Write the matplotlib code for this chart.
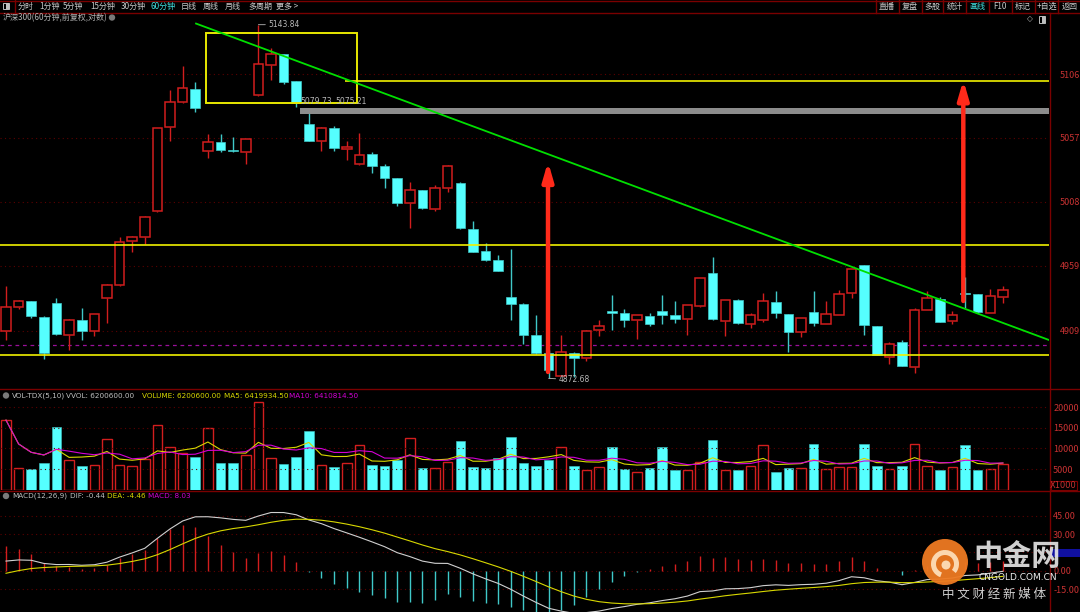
import numpy as np
import pandas as pd
import matplotlib
matplotlib.use('Agg')
import matplotlib.pyplot as plt
from matplotlib.patches import Rectangle, Circle, Wedge

plt.rcParams['font.family'] = ['Noto Sans CJK SC', 'DejaVu Sans']

# 沪深300 60分钟 K线
opens = [4908.8, 4927.4, 4931.8, 4920.0, 4930.7, 4905.7, 4917.7, 4908.8, 4934.1, 4944.0,
         4977.8, 4980.8, 5000.8, 5065.1, 5084.5, 5094.5, 5047.0, 5054.1, 5047.6, 5046.4,
         5089.9, 5112.7, 5121.3, 5100.4, 5067.4, 5054.4, 5064.6, 5048.5, 5037.0, 5044.5,
         5035.7, 5026.1, 5006.9, 5016.8, 5002.7, 5018.4, 5022.2, 4987.2, 4970.1, 4963.2,
         4935.1, 4929.7, 4905.7, 4892.4, 4874.7, 4891.9, 4888.1, 4909.6, 4924.3, 4922.6,
         4917.4, 4920.7, 4924.1, 4921.0, 4918.0, 4927.9, 4953.2, 4916.9, 4932.5, 4914.4,
         4917.4, 4931.5, 4922.0, 4908.5, 4923.6, 4914.6, 4921.5, 4937.9, 4959.4, 4912.6,
         4889.3, 4900.4, 4881.2, 4925.3, 4933.3, 4916.4, 4938.1, 4937.1, 4923.0, 4934.8]
highs = [4943.7, 4932.8, 4932.0, 4920.5, 4934.1, 4918.0, 4926.4, 4922.2, 4945.0, 4981.1,
         4982.1, 4997.0, 5065.0, 5093.7, 5112.1, 5099.9, 5060.2, 5060.2, 5057.7, 5056.3,
         5143.84, 5126.2, 5121.5, 5100.6, 5076.3, 5065.6, 5066.1, 5054.6, 5060.5, 5046.0,
         5036.8, 5026.5, 5023.0, 5017.0, 5020.7, 5036.0, 5023.2, 4993.3, 4976.7, 4967.2,
         4972.1, 4930.7, 4921.3, 4894.4, 4905.9, 4893.1, 4909.8, 4917.4, 4936.6, 4925.9,
         4921.3, 4922.6, 4936.6, 4931.8, 4929.0, 4949.8, 4965.5, 4932.8, 4933.5, 4923.0,
         4937.9, 4939.7, 4922.3, 4919.3, 4939.7, 4932.0, 4940.4, 4956.6, 4959.6, 4912.8,
         4900.4, 4902.1, 4926.4, 4939.7, 4935.3, 4924.6, 4950.6, 4937.4, 4941.2, 4943.7]
lows = [4902.1, 4925.6, 4919.0, 4887.8, 4906.0, 4894.4, 4902.1, 4905.2, 4915.4, 4943.6,
        4969.6, 4975.9, 5000.3, 5054.4, 5083.8, 5076.9, 5041.8, 5046.4, 5046.4, 5037.0,
        5089.5, 5101.4, 5098.1, 5080.5, 5054.5, 5047.2, 5047.2, 5040.1, 5036.2, 5029.9,
        5018.6, 5005.0, 4987.7, 5002.7, 5001.2, 5015.8, 4987.5, 4969.5, 4963.0, 4955.0,
        4917.7, 4899.3, 4891.1, 4872.68, 4874.5, 4873.5, 4886.0, 4905.4, 4909.8, 4911.8,
        4902.6, 4913.1, 4914.6, 4915.4, 4905.9, 4927.5, 4917.7, 4905.2, 4914.6, 4911.3,
        4915.9, 4919.2, 4893.1, 4904.4, 4913.1, 4914.3, 4921.2, 4934.5, 4905.7, 4890.3,
        4883.7, 4882.2, 4877.0, 4925.0, 4915.6, 4914.4, 4926.6, 4923.0, 4922.7, 4930.7]
closes = [4927.6, 4931.8, 4920.3, 4891.9, 4906.5, 4917.2, 4909.0, 4921.8, 4944.0, 4977.0,
          4980.8, 4996.6, 5064.4, 5084.3, 5095.3, 5079.9, 5053.6, 5047.7, 5047.3, 5055.9,
          5113.7, 5121.3, 5099.6, 5084.0, 5054.9, 5064.4, 5049.5, 5050.0, 5043.9, 5035.7,
          5026.5, 5006.9, 5016.8, 5003.3, 5018.6, 5035.7, 4987.7, 4969.8, 4963.2, 4955.2,
          4929.9, 4905.9, 4892.1, 4879.3, 4892.7, 4888.1, 4909.2, 4913.1, 4922.6, 4917.4,
          4921.0, 4914.6, 4921.5, 4918.4, 4928.7, 4949.4, 4918.0, 4932.5, 4914.9, 4921.0,
          4932.0, 4922.6, 4908.5, 4919.0, 4915.4, 4921.8, 4937.4, 4956.3, 4913.4, 4890.6,
          4898.8, 4882.4, 4924.9, 4934.3, 4915.9, 4921.0, 4937.7, 4923.3, 4935.6, 4940.7]
# 成交量 (X1000, 单位千)
volumes = [16.9, 5.3, 5.0, 6.5, 15.3, 7.1, 5.7, 6.1, 12.2, 6.0,
           5.7, 7.4, 15.8, 10.3, 8.9, 8.0, 14.9, 6.5, 6.5, 8.4,
           21.2, 7.6, 6.3, 8.0, 14.3, 6.1, 5.5, 6.4, 10.9, 5.9,
           5.7, 7.3, 12.5, 5.3, 5.3, 6.6, 11.8, 5.5, 5.3, 7.6,
           12.8, 6.5, 5.7, 7.3, 10.3, 5.7, 4.7, 5.4, 10.3, 5.0,
           4.4, 5.3, 10.4, 4.7, 4.8, 6.8, 12.0, 4.7, 4.7, 5.8,
           10.8, 4.4, 5.3, 5.3, 11.0, 4.9, 5.4, 5.5, 11.2, 5.8,
           4.9, 5.8, 11.2, 5.7, 4.8, 5.5, 10.9, 4.8, 4.9, 6.2]

price_ticks = [5106, 5057, 5008, 4959, 4909]
vol_ticks = [5, 10, 15, 20]
vol_labels = ['5000', '10000', '15000', '20000']
macd_ticks = [45, 30, 15, 0, -15]
macd_labels = ['45.00', '30.00', '15.00', '0.00', '-15.00']

# MACD 初始状态
ema12_seed, ema26_seed, dea_seed = 4910.0, 4903.0, -4.6

# 画线
trend_x, trend_p = [15.06, 82.65], [5144.7, 4902.1]
box_x, box_p = [15.85, 27.8], [5083.8, 5137.4]
top_line_x, top_line_p = 26.9, 5100.6
band_x, band_p = 23.3, [5075.21, 5079.73]
yellow_levels = [4974.9, 4890.6]
prev_close = 4898.0
arrows = [(42.95, 4877.6, 5038.8), (75.86, 4932.0, 5101.4)]

W, H = 1080, 612
BG = 'black'
RED = '#d21e1e'
CYAN = '#55ffff'
CYAN_W = '#40c8c8'
DARKRED = '#7a0000'
GRID = '#5c0000'
LBL = '#c83232'
GRAY = '#b8b8b8'
YEL = '#d8d800'
MAG = '#d400d4'

fig = plt.figure(figsize=(10.8, 6.12), dpi=100, facecolor=BG)


def px_axes(x0, y0, x1, y1):
    ax = fig.add_axes([x0 / W, 1 - y1 / H, (x1 - x0) / W, (y1 - y0) / H])
    ax.set_facecolor(BG)
    for s in ax.spines.values():
        s.set_visible(False)
    ax.set_xticks([])
    return ax


n = len(closes)
idx = np.arange(n)
up = np.array(closes) >= np.array(opens)
xlim = (-0.475, 82.65)

# ---------- 主图 ----------
ax = px_axes(0, 13, 1049, 388)
ax.set_xlim(*xlim)
ax.set_ylim(4865.3, 5152.8)
bw = 0.76
for i in range(n):
    o, h, l, c = opens[i], highs[i], lows[i], closes[i]
    top, bot = max(o, c), min(o, c)
    if up[i]:
        ax.vlines(i, top, h, color=RED, lw=1)
        ax.vlines(i, l, bot, color=RED, lw=1)
        ax.add_patch(Rectangle((i - bw / 2, bot), bw, max(top - bot, 0.4),
                               facecolor=BG, edgecolor=RED, lw=1.1, zorder=3))
    else:
        ax.vlines(i, l, h, color=CYAN_W, lw=1)
        ax.add_patch(Rectangle((i - bw / 2, bot), bw, max(top - bot, 0.4),
                               facecolor=CYAN, edgecolor=CYAN_W, lw=0.5, zorder=3))

ax.set_yticks(price_ticks)
ax.set_yticklabels([str(t) for t in price_ticks])
ax.yaxis.tick_right()
ax.tick_params(axis='y', length=0, pad=8, labelsize=6.5, labelcolor=LBL)
ax.grid(axis='y', color=GRID, linestyle=(0, (1, 3)), lw=0.8)

ax.axhline(prev_close, color='#9a109a', lw=0.9, ls=(0, (3, 3)), zorder=1)
for lv in yellow_levels:
    ax.axhline(lv, color='#f0f000', lw=1.2, zorder=4)
ax.hlines(top_line_p, top_line_x, xlim[1], color='#f0f000', lw=1.2, zorder=4)
ax.add_patch(Rectangle((band_x, band_p[0]), xlim[1] - band_x, band_p[1] - band_p[0],
                       facecolor='#8c8c8c', edgecolor='none', zorder=4))
ax.add_patch(Rectangle((box_x[0], box_p[0]), box_x[1] - box_x[0], box_p[1] - box_p[0],
                       facecolor='none', edgecolor='#e8e800', lw=1.4, zorder=5))
ax.plot(trend_x, trend_p, color='#00e000', lw=1.3, zorder=5)
for xa, p0, p1 in arrows:
    ax.annotate('', xy=(xa, p1), xytext=(xa, p0),
                arrowprops=dict(arrowstyle='-|>,head_length=1.1,head_width=0.32',
                                color='#ff2a1a', lw=3.2, shrinkA=0, shrinkB=0), zorder=6)

hi_i = int(np.argmax(highs))
lo_i = int(np.argmin(lows))
ax.annotate(f'{highs[hi_i]:.2f}', xy=(hi_i, highs[hi_i]), xytext=(7, 0),
            textcoords='offset points', color=GRAY, fontsize=5.5, va='center',
            family='DejaVu Sans',
            arrowprops=dict(arrowstyle='-', color=GRAY, lw=0.6, shrinkA=0, shrinkB=0))
ax.annotate(f'{lows[lo_i]:.2f}', xy=(lo_i, lows[lo_i]), xytext=(7, -1),
            textcoords='offset points', color=GRAY, fontsize=5.5, va='center',
            family='DejaVu Sans',
            arrowprops=dict(arrowstyle='-', color=GRAY, lw=0.6, shrinkA=0, shrinkB=0))
ax.text(band_x + 0.05, band_p[1] + 5.2, f'{band_p[1]:.2f}', color=GRAY, fontsize=5.5,
        va='center', family='DejaVu Sans', zorder=6)
ax.text(band_x + 2.8, band_p[1] + 5.2, f'{band_p[0]:.2f}', color=GRAY, fontsize=5.5,
        va='center', family='DejaVu Sans', zorder=6)

# ---------- 成交量 ----------
axv = px_axes(0, 390, 1049, 490)
axv.set_xlim(*xlim)
axv.set_ylim(-0.1, 24.23)
for i in range(n):
    if up[i]:
        axv.add_patch(Rectangle((i - bw / 2, 0), bw, volumes[i], facecolor=BG,
                                edgecolor=RED, lw=1.0))
    else:
        axv.add_patch(Rectangle((i - bw / 2, 0), bw, volumes[i], facecolor=CYAN,
                                edgecolor=CYAN_W, lw=0.4))
vs = pd.Series(volumes)
axv.plot(idx, vs.rolling(5, min_periods=1).mean(), color=YEL, lw=0.8)
axv.plot(idx, vs.rolling(10, min_periods=1).mean(), color=MAG, lw=0.8)
axv.set_yticks(vol_ticks)
axv.set_yticklabels(vol_labels)
axv.yaxis.tick_right()
axv.tick_params(axis='y', length=0, pad=3, labelsize=6.5, labelcolor=LBL)
axv.grid(axis='y', color=GRID, linestyle=(0, (1, 3)), lw=0.8)

# ---------- MACD ----------
a12, a26, a9 = 2 / 13, 2 / 27, 2 / 10
e12, e26, dea = ema12_seed, ema26_seed, dea_seed
difs, deas = [], []
for c in closes:
    e12 += a12 * (c - e12)
    e26 += a26 * (c - e26)
    d = e12 - e26
    dea += a9 * (d - dea)
    difs.append(d)
    deas.append(dea)
difs = np.array(difs)
deas = np.array(deas)
hist = 2 * (difs - deas)

axm = px_axes(0, 491, 1049, 612)
axm.set_xlim(*xlim)
axm.set_ylim(-33.85, 65.33)
axm.vlines(idx, 0, hist, colors=[RED if h >= 0 else CYAN_W for h in hist], lw=1.0)
axm.plot(idx, difs, color='#d0d0d0', lw=0.8)
axm.plot(idx, deas, color=YEL, lw=0.8)
axm.set_yticks(macd_ticks)
axm.set_yticklabels(macd_labels)
axm.yaxis.tick_right()
axm.tick_params(axis='y', length=0, pad=3, labelsize=6.5, labelcolor=LBL)
axm.grid(axis='y', color=GRID, linestyle=(0, (1, 3)), lw=0.8)

# ---------- 界面框架与文字 ----------
ov = fig.add_axes([0, 0, 1, 1], facecolor='none')
ov.set_xlim(0, W)
ov.set_ylim(H, 0)
ov.axis('off')

for yy in (0.5, 12.5, 389, 490.5):
    ov.plot([0, W], [yy, yy], color=DARKRED, lw=1.0)
ov.plot([1049.5, 1049.5], [12.5, H], color=DARKRED, lw=1.0)
ov.plot([15, 15], [0, 12.5], color=DARKRED, lw=1.0)
ov.add_patch(Rectangle((3, 3), 6, 6, facecolor='none', edgecolor='#c0c0c0', lw=0.7))
ov.add_patch(Rectangle((6, 3), 3, 6, facecolor='#c0c0c0', edgecolor='none'))

left_items = [('分时', 25.8), ('1分钟', 50), ('5分钟', 73.3), ('15分钟', 102.8),
              ('30分钟', 133), ('60分钟', 163), ('日线', 189), ('周线', 211),
              ('月线', 232.7), ('多周期', 260), ('更多 >', 287)]
for s, xc in left_items:
    ov.text(xc, 6.3, s, color='#40e0e0' if s == '60分钟' else '#c8c8c8',
            fontsize=5.8, ha='center', va='center')
right_items = [('直播', 886.7), ('复盘', 910), ('多股', 932.7), ('统计', 954.3),
               ('画线', 977.3), ('F10', 1000.3), ('标记', 1023.3), ('+自选', 1046.7),
               ('返回', 1070)]
for s, xc in right_items:
    ov.text(xc, 6.3, s, color='#40e0e0' if s == '画线' else '#c8c8c8',
            fontsize=5.8, ha='center', va='center')
for xs in (876, 899.3, 922, 943.3, 966, 989.3, 1011.7, 1035, 1058.3):
    ov.plot([xs, xs], [0, 12.5], color=DARKRED, lw=1.0)

ov.text(3, 17.5, '沪深300(60分钟,前复权,对数)', color='#b4b4b4', fontsize=5.8, va='center')
ov.add_patch(Circle((112, 17.5), 3.2, facecolor='#7a7a7a', edgecolor='none'))
ov.text(1030, 19, '◇', color='#bdbdbd', fontsize=5.5, ha='center', va='center',
        family='DejaVu Sans')
ov.add_patch(Rectangle((1038.5, 15.5), 6.5, 7, facecolor='none', edgecolor='#bdbdbd', lw=0.7))
ov.add_patch(Rectangle((1042, 15.5), 3, 7, facecolor='#bdbdbd', edgecolor='none'))


def header(y, parts):
    ov.add_patch(Circle((6, y), 3.2, facecolor='#7a7a7a', edgecolor='none'))
    for s, xs, col in parts:
        ov.text(xs, y, s, color=col, fontsize=5.2, va='center', family='DejaVu Sans')


header(395.5, [('VOL-TDX(5,10)', 12, '#c0c0c0'), ('VVOL: 6200600.00', 66, '#c0c0c0'),
               ('VOLUME: 6200600.00', 142, YEL), ('MA5: 6419934.50', 224, YEL),
               ('MA10: 6410814.50', 289, MAG)])
header(496, [('MACD(12,26,9)', 12, '#c0c0c0'), ('DIF: -0.44', 70, '#c0c0c0'),
             ('DEA: -4.46', 107, YEL), ('MACD: 8.03', 148, MAG)])

ov.add_patch(Rectangle((1050.5, 481), 26, 9, facecolor='none', edgecolor=DARKRED, lw=0.8))
ov.text(1063.5, 485.8, 'X1000', color=LBL, fontsize=6, ha='center', va='center',
        family='DejaVu Sans')
ov.add_patch(Rectangle((1050, 549), 30, 7.5, facecolor='#1010a0', edgecolor='none'))

# 水印
ov.add_patch(Circle((945, 562), 23, facecolor='#ee7a22', edgecolor='none', alpha=0.95))
ov.add_patch(Wedge((945, 564), 14, 110, 400, width=5, facecolor='#fbd7b0', edgecolor='none'))
ov.add_patch(Circle((946, 565), 4.5, facecolor='#fbd7b0', edgecolor='none'))
ov.text(1017, 556, '中金网', color='#e8e8e8', fontsize=21, fontweight='bold',
        ha='center', va='center', alpha=0.9)
ov.text(1018, 577, 'CNGOLD.COM.CN', color='#eeeeee', fontsize=6.5, ha='center',
        va='center', family='DejaVu Sans')
ov.text(994, 594, '中 文 财 经 新 媒 体', color='#cfcfcf', fontsize=9, ha='center',
        va='center')

fig.savefig('out.png', dpi=100, facecolor=BG)
